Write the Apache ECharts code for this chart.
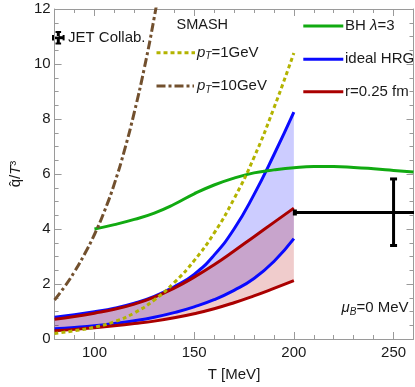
<!DOCTYPE html>
<html>
<head>
<meta charset="utf-8">
<script src="https://cdn.jsdelivr.net/npm/echarts@6/dist/echarts.min.js"></script>
<style>html,body{margin:0;padding:0;background:#fff}#c{width:415px;height:387px}</style>
</head>
<body>
<div id="c"></div>
<script>
// ---- data ----
const tBand = [80, 90, 100, 110, 120, 130, 140, 150, 160, 170, 180, 190, 200];
const hrgUpper = [0.79, 0.88, 0.99, 1.12, 1.30, 1.55, 1.90, 2.35, 3.05, 4.00, 5.25, 6.70, 8.25];
const hrgLower = [0.37, 0.42, 0.48, 0.56, 0.66, 0.79, 0.96, 1.17, 1.43, 1.77, 2.20, 2.82, 3.65];
const rUpper = [0.72, 0.82, 0.94, 1.08, 1.27, 1.52, 1.85, 2.25, 2.70, 3.20, 3.72, 4.24, 4.76];
const rLower = [0.30, 0.35, 0.41, 0.48, 0.56, 0.65, 0.77, 0.92, 1.10, 1.32, 1.57, 1.84, 2.12];
const pt1GeV = [0.20, 0.30, 0.43, 0.63, 0.95, 1.42, 2.05, 2.85, 3.85, 5.10, 6.60, 8.40, 10.40];
const tBrown = [80, 85, 90, 95, 100, 105, 110, 115, 120, 125, 130, 135];
const pt10GeV = [1.42, 1.90, 2.45, 3.08, 3.80, 4.65, 5.65, 6.85, 8.25, 9.85, 11.70, 13.80];
const tGreen = [100, 110, 120, 130, 140, 150, 160, 170, 180, 190, 200, 210, 220, 230, 240, 250, 260];
const bhLambda3 = [4.00, 4.16, 4.35, 4.58, 4.90, 5.28, 5.60, 5.85, 6.04, 6.15, 6.23, 6.27, 6.27, 6.24, 6.19, 6.13, 6.07];
const jetT = [250], jetQ = [4.6], jetTLow = [200], jetTHigh = [300], jetQLow = [3.4], jetQHigh = [5.82];
const xMajorTicks = [100, 150, 200, 250];

const zip = (xs, ys) => xs.map((x, i) => [x, ys[i]]);
// value-first rows so that stacking happens on the y value (encode maps dims back)
const zipYX = (xs, ys) => xs.map((x, i) => [ys[i], x]);
const diff = (a, b) => a.map((v, i) => v - b[i]);

const FONT = '"Liberation Sans", Arial, sans-serif';
const FRAME = '#9a9a9a';
const TXT = '#1a1a1a';
const SM = 0.5;

const chart = echarts.init(document.getElementById('c'), null, {renderer: 'canvas'});

const baseX = {
  type: 'value', min: 80, max: 260, interval: 10, gridIndex: 0,
  splitLine: {show: false},
  axisLine: {show: true, lineStyle: {color: FRAME, width: 1}},
  axisTick: {show: true, inside: true, length: 4, lineStyle: {color: FRAME}},
  axisLabel: {show: false}
};
const majorX = {
  type: 'value', min: 80, max: 260, gridIndex: 0,
  splitLine: {show: false},
  axisLine: {show: false},
  axisTick: {show: true, inside: true, length: 7, customValues: xMajorTicks, lineStyle: {color: FRAME}},
  axisLabel: {show: false}
};

function bandSeries(stackId, lower, upper, color) {
  return [
    {type: 'line', data: zipYX(tBand, lower), encode: {x: 1, y: 0}, stack: stackId, smooth: SM,
     symbol: 'none', lineStyle: {width: 0, opacity: 0}, silent: true, z: 1},
    {type: 'line', data: zipYX(tBand, diff(upper, lower)), encode: {x: 1, y: 0}, stack: stackId, smooth: SM,
     symbol: 'none', lineStyle: {width: 0, opacity: 0}, areaStyle: {color: color, opacity: 1}, silent: true, z: 1}
  ];
}
function lineSeries(xs, ys, style, z) {
  return {type: 'line', data: zip(xs, ys), smooth: SM, symbol: 'none', lineStyle: style, z: z};
}

const option = {
  animation: false,
  grid: {left: 46.5, right: 1.5, top: 9, bottom: 46, containLabel: false},
  xAxis: [
    Object.assign({}, baseX, {
      position: 'bottom',
      axisLabel: {show: true, customValues: xMajorTicks, margin: 6, color: TXT, fontSize: 15, fontFamily: FONT},
      name: 'T [MeV]', nameLocation: 'middle', nameGap: 28,
      nameTextStyle: {color: TXT, fontSize: 15, fontFamily: FONT}
    }),
    Object.assign({}, majorX, {position: 'bottom'}),
    Object.assign({}, baseX, {position: 'top'}),
    Object.assign({}, majorX, {position: 'top'})
  ],
  yAxis: [
    {
      type: 'value', min: 0, max: 12, interval: 2, position: 'left',
      splitLine: {show: false},
      axisLine: {show: true, lineStyle: {color: FRAME}},
      axisTick: {show: true, inside: true, length: 7, lineStyle: {color: FRAME}},
      minorTick: {show: true, splitNumber: 4, length: 4, lineStyle: {color: FRAME}},
      axisLabel: {margin: 4, color: TXT, fontSize: 15, fontFamily: FONT},
      name: '{a|q\u0302/}{b|T}{a|\u00b3}', nameLocation: 'middle', nameGap: 24, nameRotate: 90,
      nameTextStyle: {color: TXT, fontSize: 15, fontFamily: FONT,
        rich: {a: {fontSize: 15, fontFamily: FONT, color: TXT}, b: {fontSize: 15, fontFamily: FONT, fontStyle: 'italic', color: TXT}}}
    },
    {
      type: 'value', min: 0, max: 12, interval: 2, position: 'right',
      splitLine: {show: false},
      axisLine: {show: true, lineStyle: {color: FRAME}},
      axisTick: {show: true, inside: true, length: 7, lineStyle: {color: FRAME}},
      minorTick: {show: true, splitNumber: 4, length: 4, lineStyle: {color: FRAME}},
      axisLabel: {show: false}
    }
  ],
  series: [
    ...bandSeries('hrg', hrgLower, hrgUpper, 'rgba(0,0,255,0.2)'),
    ...bandSeries('rb', rLower, rUpper, 'rgba(180,0,0,0.2)'),
    lineSeries(tBand, hrgUpper, {color: '#0a0aff', width: 3}, 3),
    lineSeries(tBand, hrgLower, {color: '#0a0aff', width: 3}, 3),
    lineSeries(tBand, rUpper, {color: '#aa0000', width: 3}, 4),
    lineSeries(tBand, rLower, {color: '#aa0000', width: 3}, 4),
    lineSeries(tGreen, bhLambda3, {color: '#11aa11', width: 3}, 5),
    lineSeries(tBand, pt1GeV, {color: '#b3b300', width: 3, type: [4, 3], cap: 'butt'}, 6),
    lineSeries(tBrown, pt10GeV, {color: '#72502e', width: 3, type: [9, 3, 3, 3], cap: 'butt'}, 6),
    {
      type: 'custom', clip: true, z: 7,
      data: jetT.map((t, i) => [t, jetQ[i], jetTLow[i], jetTHigh[i], jetQLow[i], jetQHigh[i]]),
      renderItem: function (params, api) {
        const l = api.coord([api.value(2), api.value(1)]);
        const r = api.coord([api.value(3), api.value(1)]);
        const lo = api.coord([api.value(0), api.value(4)]);
        const hi = api.coord([api.value(0), api.value(5)]);
        const st = {stroke: '#000', lineWidth: 3};
        return {type: 'group', children: [
          {type: 'line', shape: {x1: l[0], y1: l[1], x2: r[0], y2: r[1]}, style: st},
          {type: 'line', shape: {x1: lo[0], y1: lo[1], x2: hi[0], y2: hi[1]}, style: st},
          {type: 'line', shape: {x1: hi[0] - 3.5, y1: hi[1], x2: hi[0] + 3.5, y2: hi[1]}, style: st},
          {type: 'line', shape: {x1: lo[0] - 3.5, y1: lo[1], x2: lo[0] + 3.5, y2: lo[1]}, style: st},
          {type: 'line', shape: {x1: l[0] + 1, y1: l[1] - 3, x2: l[0] + 1, y2: l[1] + 3}, style: {stroke: '#000', lineWidth: 4}}
        ]};
      }
    }
  ],
  graphic: [
    {type: 'line', shape: {x1: 58.3, y1: 32, x2: 58.3, y2: 43.5}, style: {stroke: '#000', lineWidth: 3}},
    {type: 'line', shape: {x1: 53, y1: 37.7, x2: 63.6, y2: 37.7}, style: {stroke: '#000', lineWidth: 3}},
    {type: 'line', shape: {x1: 55.5, y1: 32, x2: 61.1, y2: 32}, style: {stroke: '#000', lineWidth: 2}},
    {type: 'line', shape: {x1: 55.5, y1: 43.5, x2: 61.1, y2: 43.5}, style: {stroke: '#000', lineWidth: 2}},
    {type: 'line', shape: {x1: 53, y1: 35, x2: 53, y2: 40.4}, style: {stroke: '#000', lineWidth: 2}},
    {type: 'line', shape: {x1: 63.6, y1: 35, x2: 63.6, y2: 40.4}, style: {stroke: '#000', lineWidth: 2}},
    {type: 'text', style: {text: 'JET Collab.', x: 68, y: 37.5, verticalAlign: 'middle', fill: TXT, font: '15px ' + FONT}},
    {type: 'text', style: {text: 'SMASH', x: 176.5, y: 25, verticalAlign: 'middle', fill: TXT, font: '14.5px ' + FONT}},
    {type: 'line', shape: {x1: 156.5, y1: 52.7, x2: 195, y2: 52.7}, style: {stroke: '#b3b300', lineWidth: 3, lineDash: [4, 3]}},
    {type: 'text', style: {text: '{p|p}{s|T}{n|=1GeV}', x: 197, y: 52.7, verticalAlign: 'middle', fill: TXT, font: '15px ' + FONT,
      rich: {p: {fontSize: 15, fontStyle: 'italic', fontFamily: FONT, fill: TXT, lineHeight: 18},
             s: {fontSize: 10, fontStyle: 'italic', fontFamily: FONT, fill: TXT, verticalAlign: 'bottom', lineHeight: 18},
             n: {fontSize: 15, fontFamily: FONT, fill: TXT, lineHeight: 18}}}},
    {type: 'line', shape: {x1: 156.5, y1: 86, x2: 194, y2: 86}, style: {stroke: '#72502e', lineWidth: 3, lineDash: [9, 3, 3, 3]}},
    {type: 'text', style: {text: '{p|p}{s|T}{n|=10GeV}', x: 197, y: 86, verticalAlign: 'middle', fill: TXT, font: '15px ' + FONT,
      rich: {p: {fontSize: 15, fontStyle: 'italic', fontFamily: FONT, fill: TXT, lineHeight: 18},
             s: {fontSize: 10, fontStyle: 'italic', fontFamily: FONT, fill: TXT, verticalAlign: 'bottom', lineHeight: 18},
             n: {fontSize: 15, fontFamily: FONT, fill: TXT, lineHeight: 18}}}},
    {type: 'line', shape: {x1: 303.3, y1: 26, x2: 343.3, y2: 26}, style: {stroke: '#11aa11', lineWidth: 3}},
    {type: 'text', style: {text: '{n|BH }{l|\u03bb}{n|=3}', x: 345, y: 26, verticalAlign: 'middle', fill: TXT, font: '15px ' + FONT,
      rich: {n: {fontSize: 15, fontFamily: FONT, fill: TXT}, l: {fontSize: 15, fontStyle: 'italic', fontFamily: FONT, fill: TXT}}}},
    {type: 'line', shape: {x1: 303.3, y1: 59.3, x2: 343.3, y2: 59.3}, style: {stroke: '#0a0aff', lineWidth: 3}},
    {type: 'text', style: {text: 'ideal HRG', x: 345, y: 59.3, verticalAlign: 'middle', fill: TXT, font: '15px ' + FONT}},
    {type: 'line', shape: {x1: 303.3, y1: 91.7, x2: 343.3, y2: 91.7}, style: {stroke: '#aa0000', lineWidth: 3}},
    {type: 'text', style: {text: 'r=0.25 fm', x: 345, y: 91.7, verticalAlign: 'middle', fill: TXT, font: '15px ' + FONT}},
    {type: 'text', style: {text: '{m|\u03bc}{s|B}{n|=0 MeV}', x: 341.5, y: 308.3, verticalAlign: 'middle', fill: TXT, font: '15px ' + FONT,
      rich: {m: {fontSize: 15, fontStyle: 'italic', fontFamily: FONT, fill: TXT, lineHeight: 18},
             s: {fontSize: 10, fontStyle: 'italic', fontFamily: FONT, fill: TXT, verticalAlign: 'bottom', lineHeight: 18},
             n: {fontSize: 15, fontFamily: FONT, fill: TXT, lineHeight: 18}}}}
  ]
};
chart.setOption(option);
</script>
</body>
</html>
